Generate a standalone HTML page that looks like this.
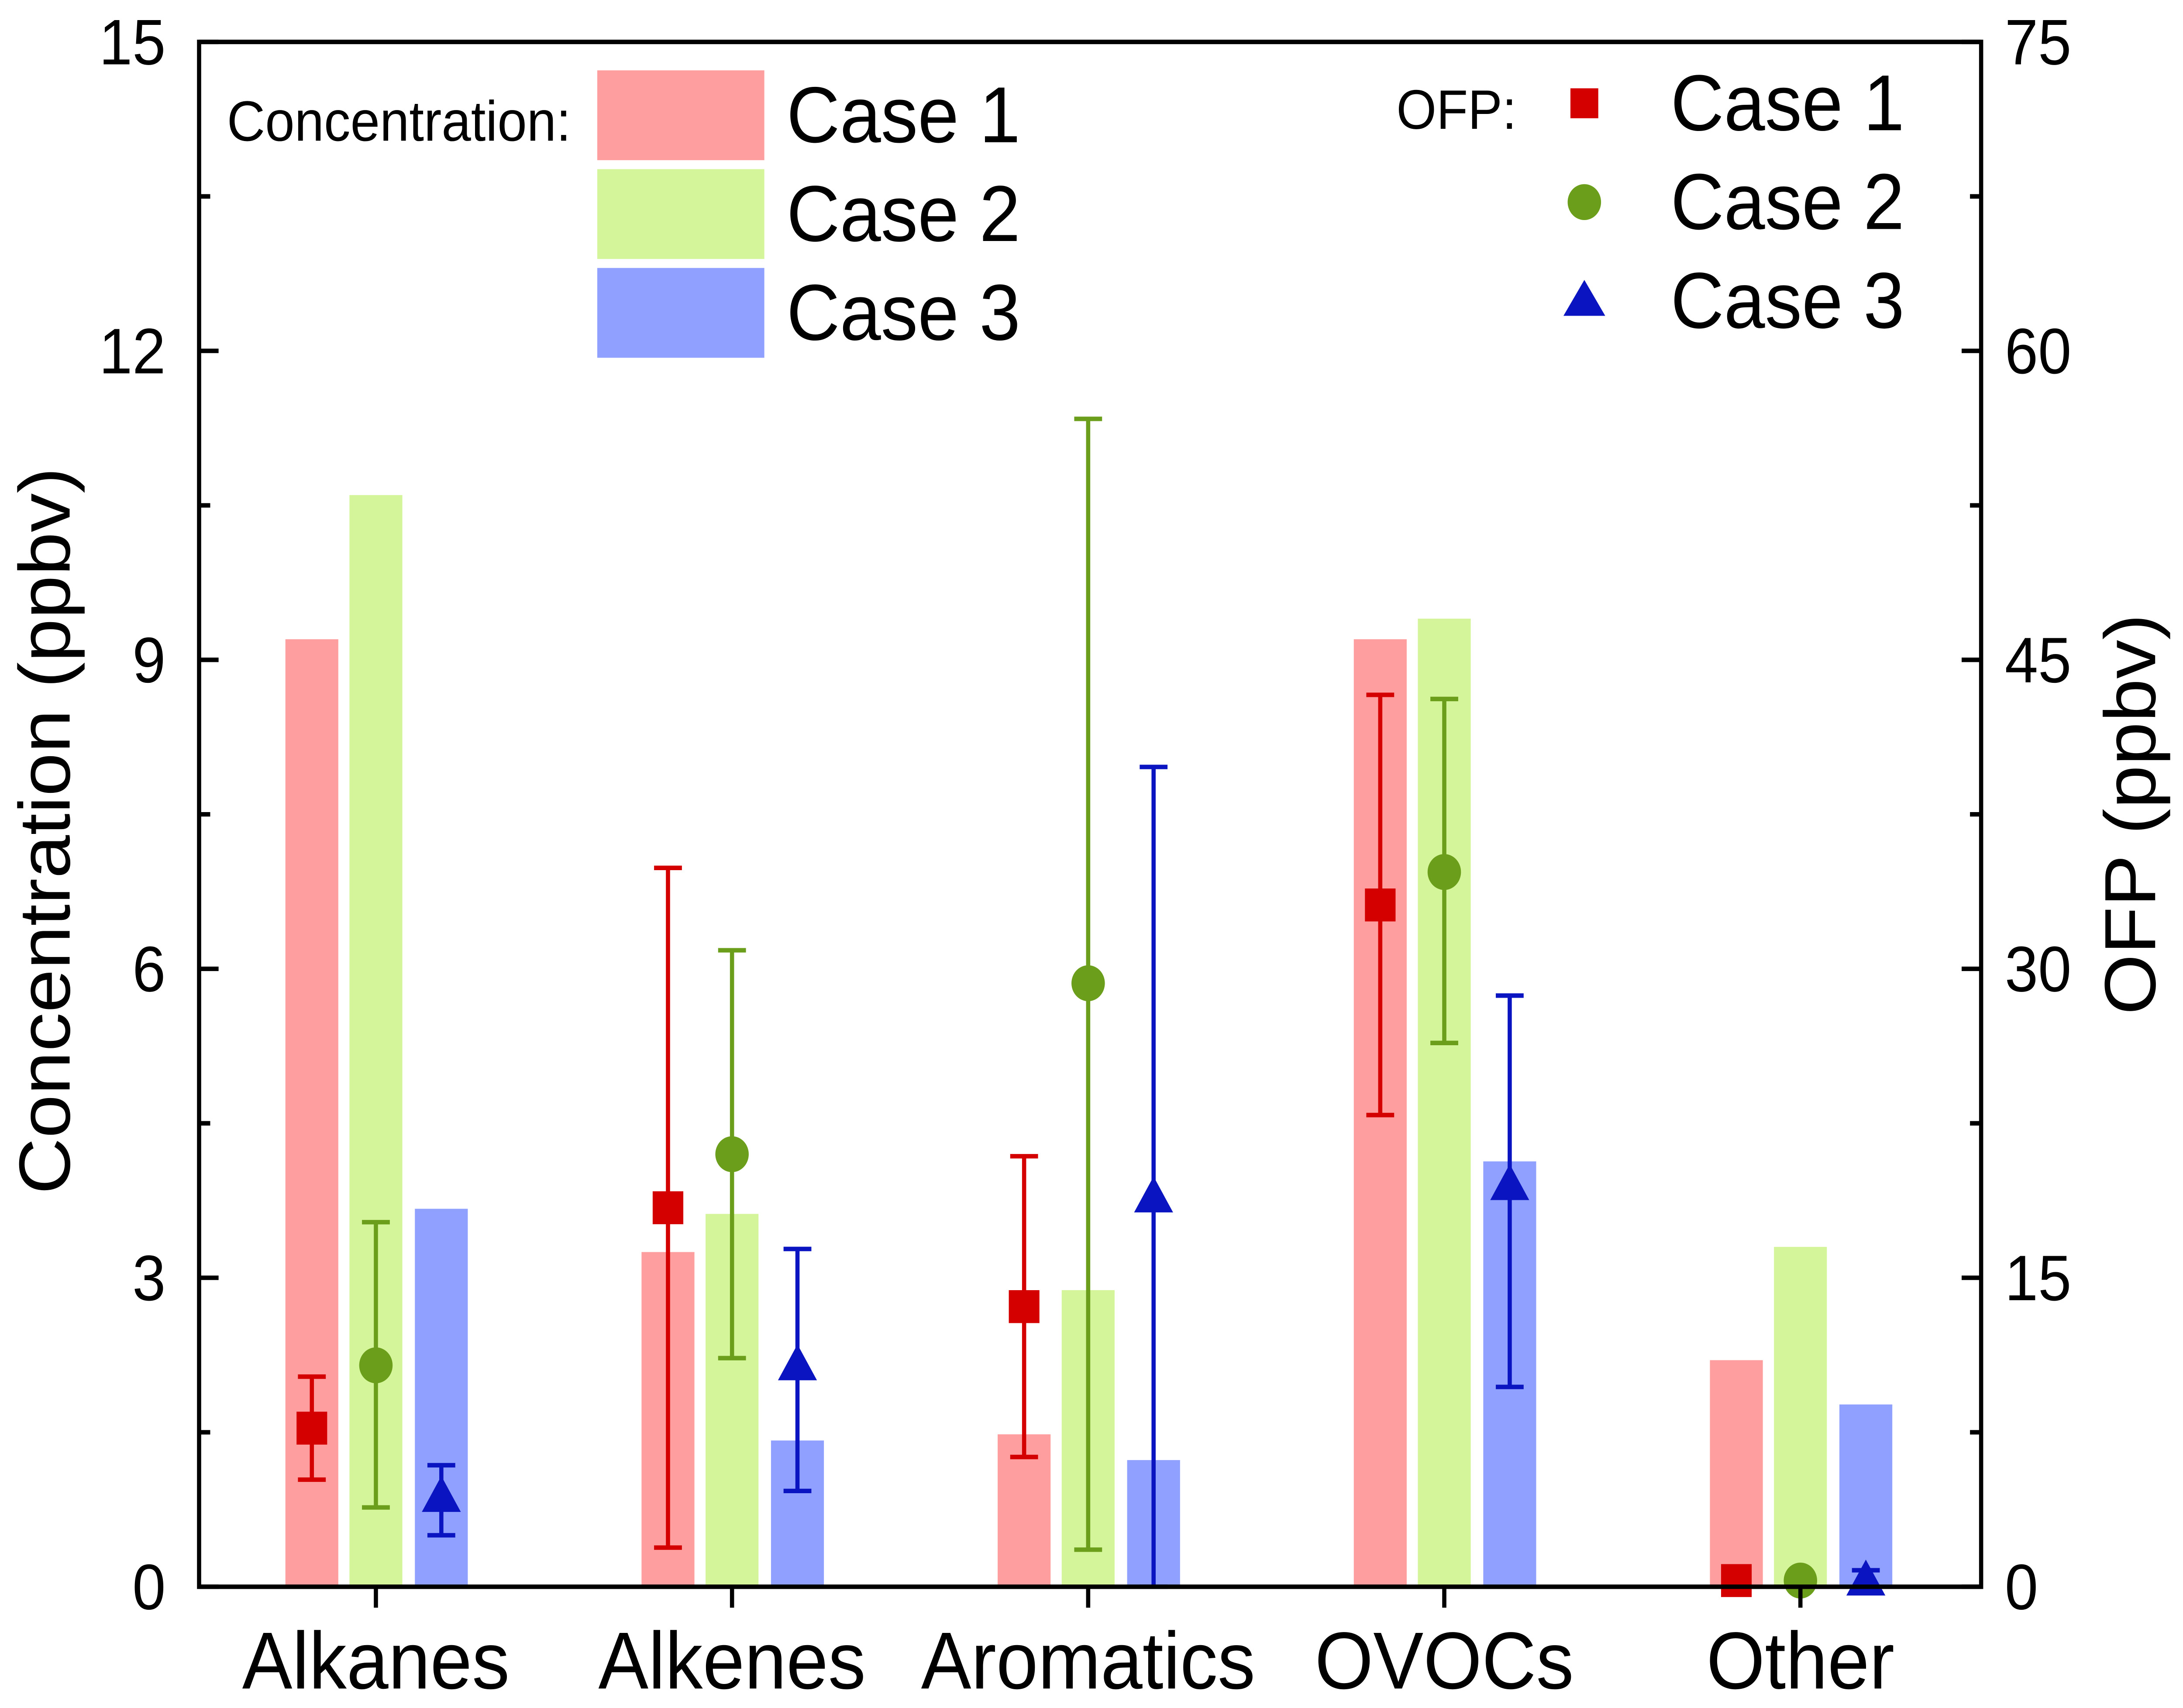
<!DOCTYPE html>
<html><head><meta charset="utf-8"><style>html,body{margin:0;padding:0;background:#fff;width:100%;height:100%;overflow:hidden}svg{display:block;width:100vw;height:100vh}text{font-family:"Liberation Sans",Arial,sans-serif}</style></head>
<body>
<svg id="chart" viewBox="0 0 1568 1141" preserveAspectRatio="none" xmlns="http://www.w3.org/2000/svg"></svg>
<script>
const categories=["Alkanes","Alkenes","Aromatics","OVOCs","Other"];
const concCase1=[9.2,3.25,1.48,9.2,2.2];
const concCase2=[10.6,3.62,2.88,9.4,3.3];
const concCase3=[3.67,1.42,1.23,4.13,1.77];
const ofpCase1=[7.7,18.4,13.6,33.1,0.3];
const ofpCase1Hi=[10.2,34.9,20.9,43.3,0.3];
const ofpCase1Lo=[5.2,1.9,6.3,22.9,0.3];
const ofpCase2=[10.75,21.0,29.3,34.7,0.3];
const ofpCase2Hi=[17.7,30.9,56.7,43.1,0.3];
const ofpCase2Lo=[3.85,11.1,1.8,26.4,0.3];
const ofpCase3=[4.36,10.75,18.9,19.5,0.3];
const ofpCase3Hi=[5.9,16.4,39.8,28.7,0.8];
const ofpCase3Lo=[2.5,4.65,0,9.7,0];
const leftTicks=[0,3,6,9,12,15];
const rightTicks=[0,15,30,45,60,75];

const svg=document.getElementById('chart');
const NS="http://www.w3.org/2000/svg";
const L=143,R=1423,T=28,B=1060;
const yL=v=>B-(v/15)*(B-T);
const yR=v=>B-(v/75)*(B-T);
const xC=i=>270+i*255.8;
function el(tag,attrs,parent){const e=document.createElementNS(NS,tag);for(const k in attrs)e.setAttribute(k,attrs[k]);(parent||svg).appendChild(e);return e;}
function txt(s,attrs){const e=el('text',attrs);e.textContent=s;return e;}

const barColors=["#ff9e9e","#d4f59a","#8fa0ff"];
const concs=[concCase1,concCase2,concCase3];
const offs=[-46,0,47];
concs.forEach((arr,s)=>arr.forEach((v,i)=>{
  const r=el('rect',{x:xC(i)+offs[s]-19,y:yL(v),width:38,height:B-yL(v),fill:barColors[s]});
  
  
}));

const mColors=["#d40000","#6b9e1a","#0a14c0"];
const ofp=[[ofpCase1,ofpCase1Hi,ofpCase1Lo],[ofpCase2,ofpCase2Hi,ofpCase2Lo],[ofpCase3,ofpCase3Hi,ofpCase3Lo]];
ofp.forEach((set,s)=>set[0].forEach((v,i)=>{
  const x=xC(i)+offs[s],c=mColors[s];
  const g=el('g',{});
  
  
  const hi=yR(set[1][i]),lo=yR(set[2][i]);
  el('line',{x1:x,x2:x,y1:hi,y2:lo,stroke:c,'stroke-width':3},g);
  el('line',{x1:x-10,x2:x+10,y1:hi,y2:hi,stroke:c,'stroke-width':3},g);
  el('line',{x1:x-10,x2:x+10,y1:lo,y2:lo,stroke:c,'stroke-width':3},g);
  const y=yR(v);
  if(s===0)el('rect',{x:x-11,y:y-11,width:22,height:22,fill:c},g);
  else if(s===1)el('circle',{cx:x,cy:y,r:12,fill:c},g);
  else el('polygon',{points:`${x},${y-14} ${x-14},${y+10} ${x+14},${y+10}`,fill:c},g);
}));

const f=el('rect',{x:L,y:T,width:R-L,height:B-T,fill:'none',stroke:'#000','stroke-width':3});


for(let k=0;k<=10;k++){
  const y=B-k*(B-T)/10,len=k%2===0?14:8;
  el('line',{x1:L,x2:L+len,y1:y,y2:y,stroke:'#000','stroke-width':3});
  el('line',{x1:R,x2:R-len,y1:y,y2:y,stroke:'#000','stroke-width':3});
}
leftTicks.forEach(v=>{const t=txt(String(v),{x:L-24,y:yL(v)+15,'font-size':43,'text-anchor':'end'});});
rightTicks.forEach(v=>{const t=txt(String(v),{x:R+17,y:yR(v)+15,'font-size':43,'text-anchor':'start'});});
categories.forEach((c,i)=>{
  el('line',{x1:xC(i),x2:xC(i),y1:B,y2:B+14,stroke:'#000','stroke-width':3});
  const t=txt(c,{x:xC(i),y:1128,'font-size':54,'text-anchor':'middle'});
  
  
});
const yt=txt('Concentration (ppbv)',{x:0,y:0,'font-size':52,'text-anchor':'middle',transform:'translate(50,555) rotate(-90)'});

const yt2=txt('OFP (ppbv)',{x:0,y:0,'font-size':52,'text-anchor':'middle',transform:'translate(1548,544) rotate(-90)'});


const lg=el('g',{});

const lt=txt('Concentration:',{x:163,y:94,'font-size':38});lg.appendChild(lt);
["Case 1","Case 2","Case 3"].forEach((n,s)=>{
  el('rect',{x:429,y:47+s*66,width:120,height:60,fill:barColors[s]},lg);
  const t=txt(n,{x:565,y:95+s*66,'font-size':53});lg.appendChild(t);
});
const lg2=el('g',{});

lg2.appendChild(txt('OFP:',{x:1003,y:86,'font-size':37}));
["Case 1","Case 2","Case 3"].forEach((n,s)=>{
  const x=1138,y=69+s*66,c=mColors[s];
  if(s===0)el('rect',{x:x-10,y:y-10,width:20,height:20,fill:c},lg2);
  else if(s===1)el('circle',{cx:x,cy:y,r:12,fill:c},lg2);
  else el('polygon',{points:`${x},${y-14} ${x-15},${y+10} ${x+15},${y+10}`,fill:c},lg2);
  lg2.appendChild(txt(n,{x:1200,y:87+s*66,'font-size':53}));
});
</script>
</body></html>
